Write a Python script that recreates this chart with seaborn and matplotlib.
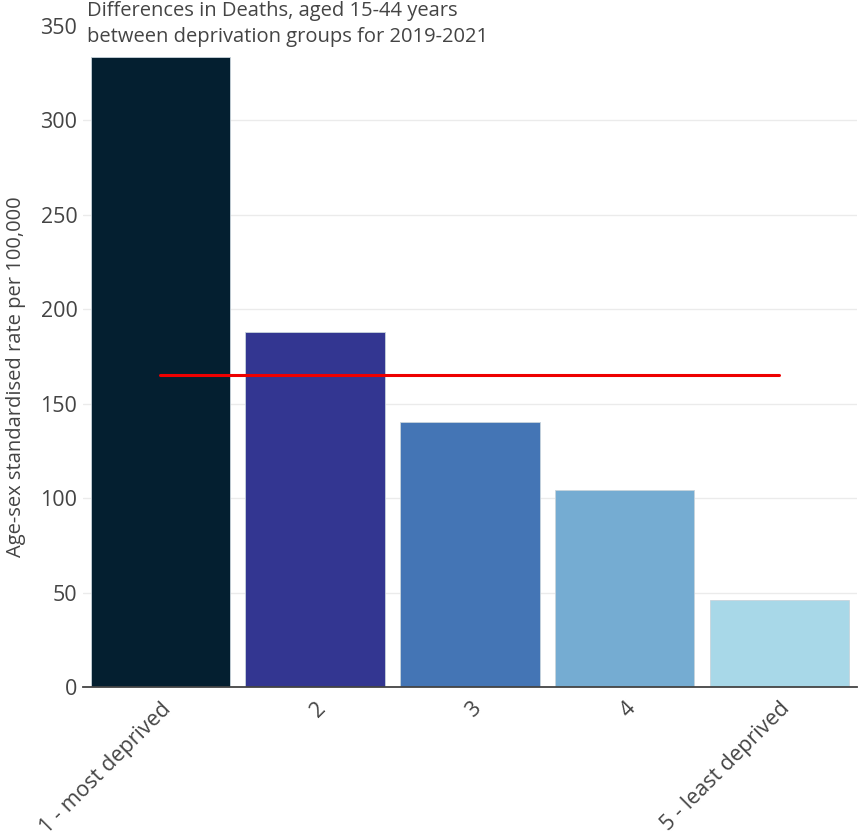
import pandas as pd
import numpy as np
import matplotlib.pyplot as plt
import seaborn as sns

# values
groups = ['1 - most deprived', '2', '3', '4', '5 - least deprived']
rates = [333.5, 188, 140.5, 104.5, 46]
bar_colors = ['#041f30', '#333691', '#4475b5', '#75acd2', '#a8d8e8']
average_rate = 165

title = 'Differences in Deaths, aged 15-44 years\nbetween deprivation groups for 2019-2021'
ylabel = 'Age-sex standardised rate per 100,000'

df = pd.DataFrame({'Group': groups, 'Rate': rates})

sns.set_style('white')
plt.rcParams['font.family'] = ['Open Sans', 'DejaVu Sans']

fig = plt.figure(figsize=(8.58, 8.40), dpi=100)
ax = fig.add_axes([0.0967, 0.182, 0.902, 0.787])

sns.barplot(data=df, x='Group', y='Rate', hue='Group', palette=bar_colors,
            saturation=1, width=0.9, legend=False, ax=ax,
            edgecolor='#c8d4dc', linewidth=0.6, zorder=2)

# average line across group centres
ax.plot([0, len(groups) - 1], [average_rate, average_rate], color='#ee0000',
        linewidth=2.2, zorder=3)

ax.set_xlim(-0.5, len(groups) - 0.5)
ax.set_ylim(0, 350)
ax.set_yticks(np.arange(0, 351, 50))
ax.yaxis.grid(True, color='#ebebeb', linewidth=1, zorder=0)
ax.set_axisbelow(True)
ax.get_ygridlines()[-1].set_visible(False)

for side in ['top', 'right', 'left']:
    ax.spines[side].set_visible(False)
ax.spines['bottom'].set_color('#444444')
ax.spines['bottom'].set_linewidth(1.3)

ax.tick_params(axis='y', length=0, labelsize=15.5, labelcolor='#444444', pad=4)
ax.tick_params(axis='x', length=0, labelsize=15.5, labelcolor='#444444', pad=8)
plt.setp(ax.get_xticklabels(), rotation=45, ha='right', rotation_mode='anchor')

ax.set_xlabel('')
ax.set_ylabel(ylabel, fontsize=14.5, color='#444444')
ax.yaxis.set_label_coords(-0.074, 0.47)

fig.text(0.1014, 0.999, title, ha='left', va='top', fontsize=14.5,
         color='#444444', linespacing=1.4)

fig.savefig('out.png', dpi=100)
